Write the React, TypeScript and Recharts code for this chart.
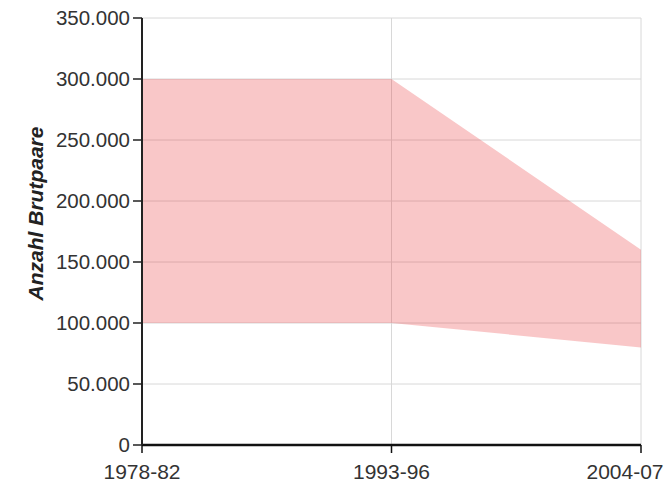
import { AreaChart, Area, XAxis, YAxis, CartesianGrid, Label } from "recharts"

const periods = ["1978-82", "1993-96", "2004-07"]
const minPairs = [100000, 100000, 80000]
const maxPairs = [300000, 300000, 160000]
const yTicks = [0, 50000, 100000, 150000, 200000, 250000, 300000, 350000]

const data = periods.map((p, i) => ({ period: p, range: [minPairs[i], maxPairs[i]] }))

const fmt = (v: number) => String(v).replace(/\B(?=(\d{3})+(?!\d))/g, ".")

// last label is pushed left so it stays inside the picture
const PeriodTick = (props: any) => {
  const { x, y, payload, index } = props
  const last = index === periods.length - 1
  return (
    <text x={x} y={y} dy="0.71em" dx={last ? -16 : 0} textAnchor="middle" fill="#333" fontSize={21}>
      {payload.value}
    </text>
  )
}

const AxisTitle = (props: any) => {
  const { viewBox } = props
  const cx = viewBox.x + 35
  const cy = viewBox.y + viewBox.height / 2 - 18
  return (
    <text
      x={cx}
      y={cy}
      transform={`rotate(-90 ${cx} ${cy})`}
      textAnchor="middle"
      dominantBaseline="central"
      fontStyle="italic"
      fontWeight="bold"
      fontSize={21}
      fill="#222"
    >
      Anzahl Brutpaare
    </text>
  )
}

export default function App() {
  return (
    <div style={{ position: "absolute", left: 0, top: 0, fontFamily: "'Liberation Sans', Arial, sans-serif" }}>
      <AreaChart width={671} height={485} data={data} margin={{ top: 18, right: 30, bottom: 0, left: 0 }}>
        <XAxis
          dataKey="period"
          height={40}
          tick={<PeriodTick />}
          tickSize={8}
          tickMargin={11}
          axisLine={{ stroke: "#111", strokeWidth: 2.5 }}
          tickLine={{ stroke: "#111", strokeWidth: 1.5 }}
          interval={0}
        />
        <YAxis
          width={142}
          domain={[0, 350000]}
          ticks={yTicks}
          tickFormatter={fmt}
          tick={{ fill: "#333", fontSize: 20.5 }}
          tickSize={9}
          tickMargin={3}
          axisLine={{ stroke: "#222", strokeWidth: 2 }}
          tickLine={{ stroke: "#222", strokeWidth: 1.5 }}
        >
          <Label content={<AxisTitle />} />
        </YAxis>
        <CartesianGrid stroke="#d8d8d8" />
        <Area
          type="linear"
          dataKey="range"
          stroke="none"
          fill="#e8262a"
          fillOpacity={0.26}
          isAnimationActive={false}
          activeDot={false}
        />
      </AreaChart>
    </div>
  )
}
